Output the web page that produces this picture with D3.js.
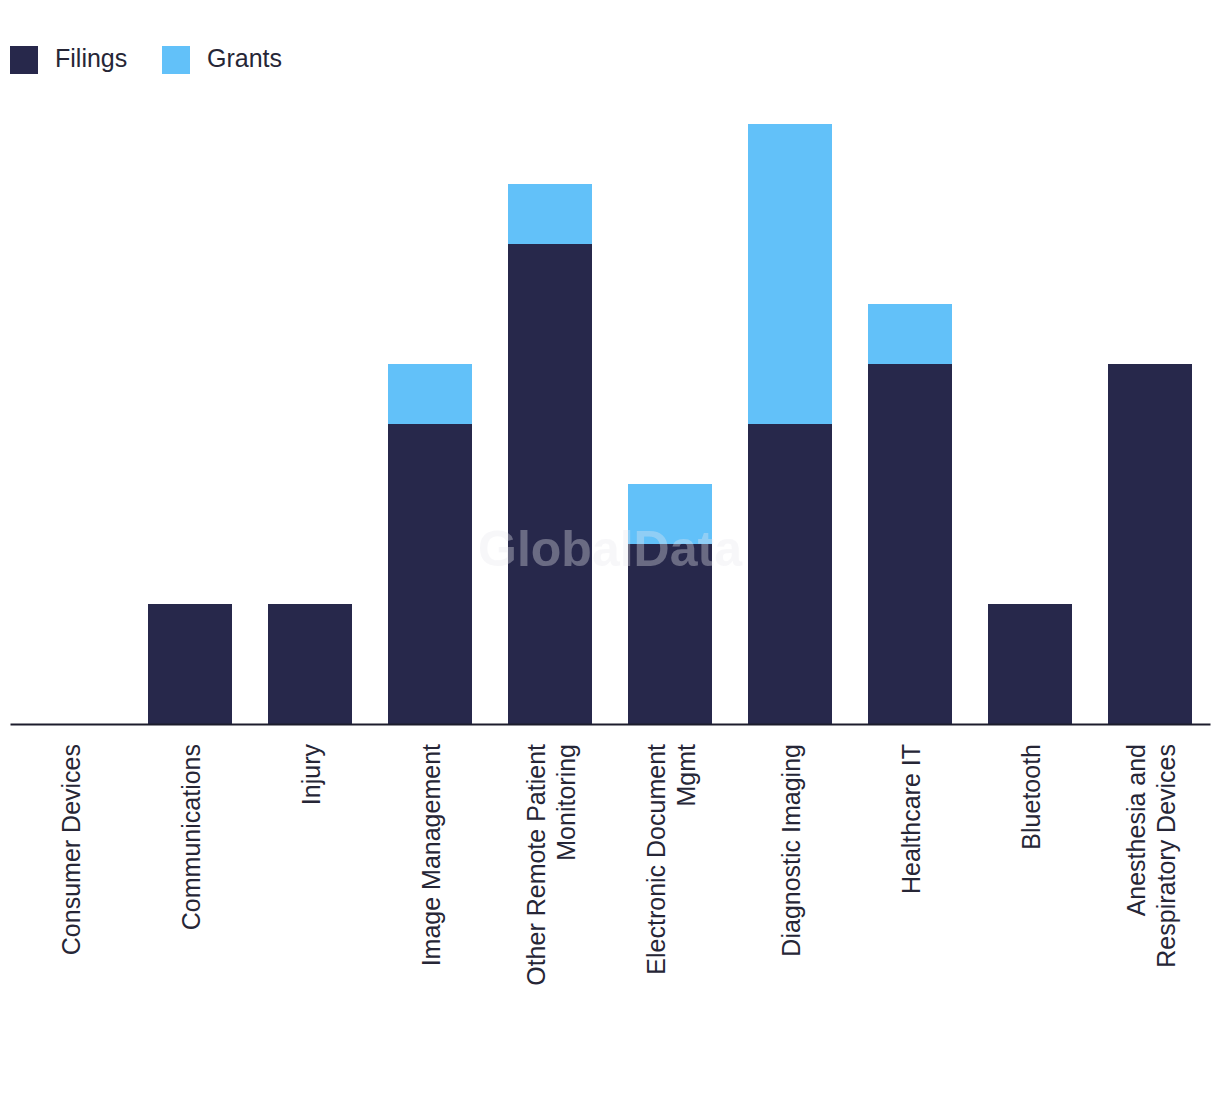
<!DOCTYPE html>
<html><head><meta charset="utf-8">
<script src="https://cdn.jsdelivr.net/npm/d3@7"></script>
<style>body{margin:0;background:#fff;}svg{display:block;font-family:"Liberation Sans",Arial,sans-serif;}</style>
</head><body>
<script>
const categories = ["Consumer Devices","Communications","Injury","Image Management","Other Remote Patient Monitoring","Electronic Document Mgmt","Diagnostic Imaging","Healthcare IT","Bluetooth","Anesthesia and Respiratory Devices"];
const labelLines = [["Consumer Devices"],["Communications"],["Injury"],["Image Management"],["Other Remote Patient","Monitoring"],["Electronic Document","Mgmt"],["Diagnostic Imaging"],["Healthcare IT"],["Bluetooth"],["Anesthesia and","Respiratory Devices"]];
const filings = [0,2,2,5,8,3,5,6,2,6];
const grants = [0,0,0,1,1,1,5,1,0,0];
const seriesNames = ["Filings","Grants"];
const colors = ["#27284b","#62c1f9"];

const W=1220,H=1094;
const svg=d3.select("body").append("svg").attr("width",W).attr("height",H);
const x=d3.scaleBand().domain(categories).range([10,1210]).paddingInner(0.3).paddingOuter(0.15);
const y=d3.scaleLinear().domain([0,10]).range([724,124]);

const data=categories.map((c,i)=>({cat:c,Filings:filings[i],Grants:grants[i]}));
const stack=d3.stack().keys(seriesNames)(data);
svg.append("g").selectAll("g").data(stack).join("g").attr("fill",(d,i)=>colors[i])
 .selectAll("rect").data(d=>d).join("rect")
 .attr("x",d=>x(d.data.cat)).attr("width",x.bandwidth())
 .attr("y",d=>y(d[1])).attr("height",d=>y(d[0])-y(d[1]));

// watermark
svg.append("text").attr("x",610).attr("y",566).attr("text-anchor","middle")
 .attr("font-size",50).attr("font-weight","bold").attr("fill","#e8e8ee").attr("fill-opacity",0.35)
 .text("GlobalData");

// axis
const ax=svg.append("g").attr("transform","translate(0,724)").call(d3.axisBottom(x).tickSize(0).tickFormat(""));
ax.select(".domain").attr("stroke","#1c1c2c").attr("stroke-width",2);

const lab=svg.append("g");
categories.forEach((c,i)=>{
  const lines=labelLines[i];
  const cx=x(c)+x.bandwidth()/2;
  const t=lab.append("text").attr("transform",`translate(${cx},744) rotate(-90)`)
   .attr("text-anchor","end").attr("font-size",25).attr("fill","#262636");
  const n=lines.length;
  lines.forEach((l,j)=>{
    t.append("tspan").attr("x",0).attr("y",(j-(n-1)/2)*30+10).text(l);
  });
});

// legend
const lg=svg.append("g");
const lx=[10,162];
seriesNames.forEach((s,i)=>{
  lg.append("rect").attr("x",lx[i]).attr("y",46).attr("width",28).attr("height",28).attr("fill",colors[i]);
  lg.append("text").attr("x",lx[i]+45).attr("y",67).attr("font-size",25).attr("fill","#262636").text(s);
});
</script>
</body></html>
